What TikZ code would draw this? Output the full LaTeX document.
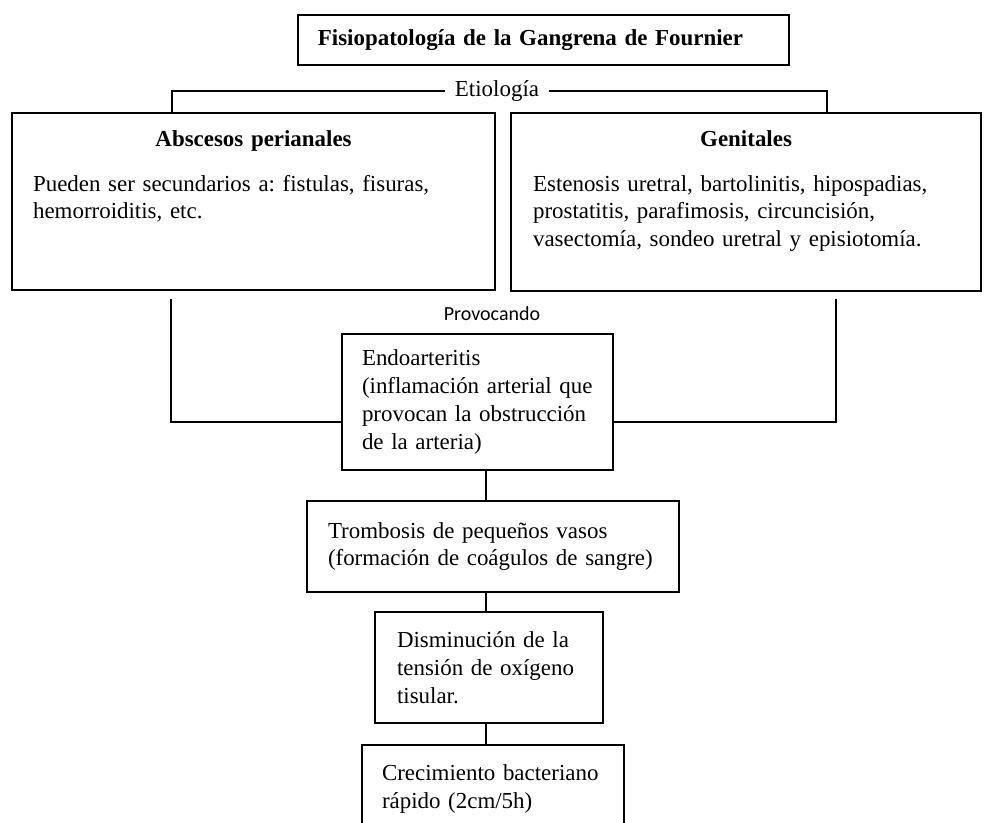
\documentclass[tikz,border=0pt]{standalone}
\usepackage{fontspec}
\setmainfont{Liberation Serif}
\newfontfamily\labelfont{Carlito}
\frenchspacing

\begin{document}
\begin{tikzpicture}[
  x=0.75pt, y=-0.75pt,
  every node/.style={font=\fontsize{17.2}{20.8}\selectfont},
  titlebox/.style={rectangle, draw, line width=1.4pt, anchor=north west, align=left, inner xsep=15pt, inner ysep=0pt, text width=338.25pt, text height=23.25pt, text depth=14.25pt, font=\fontsize{17.2}{20.8}\selectfont\bfseries},
  etiobox/.style={rectangle, draw, line width=1.6pt, anchor=north west, align=left, inner ysep=0pt, text height=24.75pt},
  stepbox/.style={rectangle, draw, line width=1.3pt, align=left, inner ysep=0pt},
  link/.style={draw, line width=0.9pt},
  tag/.style={inner sep=0pt}
]
  \useasboundingbox (0,0) rectangle (984,822);

  \node[titlebox] (title) at (297,14) {Fisiopatología de la Gangrena de Fournier};

  \node[etiobox, inner xsep=15.75pt, text width=330.75pt, text depth=108pt] (abs) at (11,112)
    {{\centering\textbf{Abscesos perianales}\par}\vspace{13pt}
     Pueden ser secundarios a: fistulas, fisuras,\\ hemorroiditis, etc.};
  \node[etiobox, inner xsep=16.5pt, text width=319.5pt, text depth=108.75pt] (gen) at (510,112)
    {{\centering\textbf{Genitales}\par}\vspace{13pt}
     Estenosis uretral, bartolinitis, hipospadias,\\ prostatitis, parafimosis, circuncisión,\\ vasectomía, sondeo uretral y episiotomía.};

  \node[tag, inner xsep=7.5pt] (etio) at (497,91) {Etiología};
  \node[tag, anchor=base, font=\labelfont\fontsize{15}{18}\selectfont] (prov) at (492,320) {Provocando};

  \node[stepbox, minimum width=203.25pt, minimum height=102pt, inner xsep=15pt, text width=173.25pt] (endo) at (477.5,402)
    {Endoarteritis\\ (inflamación arterial que\\ provocan la obstrucción\\ de la arteria)};
  \node[stepbox, minimum width=279pt, minimum height=68.25pt, inner xsep=15.75pt, text width=247.5pt] (tromb) at (493,546.5)
    {Trombosis de pequeños vasos\\ (formación de coágulos de sangre)};
  \node[stepbox, minimum width=171pt, minimum height=83.25pt, inner xsep=16.5pt, text width=138pt] (dism) at (489,667.5)
    {Disminución de la\\ tensión de oxígeno\\ tisular.};
  \node[stepbox, minimum width=196.5pt, minimum height=66pt, inner xsep=15pt, text width=166.5pt] (crec) at (493,789)
    {Crecimiento bacteriano\\ rápido (2cm/5h)};

  % etiologia bracket
  \coordinate (etl) at (172,91);
  \coordinate (etr) at (827,91);
  \path[link] (abs.north -| etl) -- (etl) -- (etio.west);
  \path[link] (etio.east) -- (etr) -- (gen.north -| etr);

  % into endoarteritis
  \coordinate (pl) at (171,299);
  \coordinate (pr) at (836,299);
  \coordinate (jl) at (171,422);
  \coordinate (jr) at (836,422);
  \path[link] (pl) -- (jl) -- (jl -| endo.west);
  \path[link] (pr) -- (jr) -- (jr -| endo.east);

  % chain
  \coordinate (ax) at (486,0);
  \path[link] (endo.south -| ax) -- (tromb.north -| ax);
  \path[link] (tromb.south -| ax) -- (dism.north -| ax);
  \path[link] (dism.south -| ax) -- (crec.north -| ax);

\end{tikzpicture}
\end{document}
